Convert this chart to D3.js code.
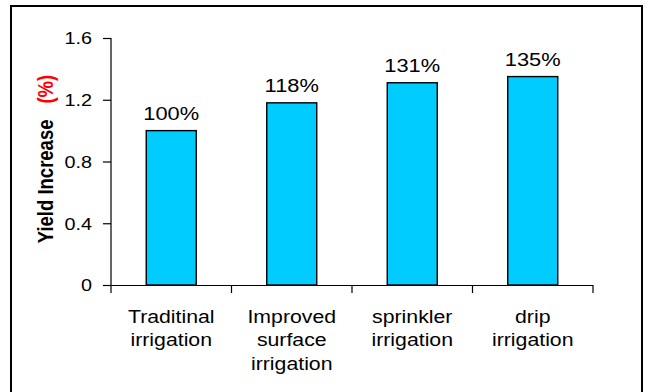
<!DOCTYPE html>
<html><head><meta charset="utf-8">
<script src="https://cdn.jsdelivr.net/npm/d3@7"></script>
<style>body{margin:0;background:#fff}svg{display:block}</style>
</head><body>
<svg id="c" width="649" height="392"></svg>
<script>
const categories = [["Traditinal","irrigation"],["Improved","surface","irrigation"],["sprinkler","irrigation"],["drip","irrigation"]];
const values = [1.00, 1.18, 1.31, 1.35];
const valueLabels = ["100%","118%","131%","135%"];
const yTicks = [0, 0.4, 0.8, 1.2, 1.6];
const yTickLabels = ["0","0.4","0.8","1.2","1.6"];

const svg = d3.select("#c");
const FONT = "Liberation Sans, Arial, sans-serif";
const SX = 1.15;

svg.append("rect").attr("x",11).attr("y",6).attr("width",631).attr("height",400)
  .attr("fill","#fff").attr("stroke","#000").attr("stroke-width",2);

const y = d3.scaleLinear().domain([0,1.6]).range([285,38]);
const x = d3.scaleBand().domain(d3.range(values.length)).range([111,593])
  .paddingInner(0.585).paddingOuter(0.2925);

// bars
svg.selectAll("rect.bar").data(values).join("rect").attr("class","bar")
  .attr("x",(d,i)=>x(i)).attr("width",x.bandwidth())
  .attr("y",d=>y(d)).attr("height",d=>y(0)-y(d))
  .attr("fill","#00CCFF").attr("stroke","#000").attr("stroke-width",1.4);

// y axis
const ya = svg.append("g").attr("transform","translate(111,0)")
  .call(d3.axisLeft(y).tickValues(yTicks).tickSize(8).tickFormat((d,i)=>yTickLabels[i]));
ya.select(".domain").attr("stroke","#000").attr("stroke-width",1.2).attr("d","M-8,38.5H0V285.5");
ya.selectAll(".tick line").attr("stroke","#000").attr("stroke-width",1.2);
ya.selectAll(".tick text").remove();
ya.selectAll(".tick").append("text")
  .attr("transform",`translate(-19,0) scale(${SX+0.05},1)`)
  .attr("text-anchor","end").attr("dy","0.35em")
  .attr("font-family",FONT).attr("font-size",16.5).attr("fill","#000")
  .text((d,i)=>yTickLabels[i]);

// x axis line and ticks at category boundaries
const x0 = x.range()[0], step = x.step();
svg.append("line").attr("x1",x0).attr("x2",x.range()[1]).attr("y1",285.5).attr("y2",285.5)
  .attr("stroke","#000").attr("stroke-width",1.2);
svg.selectAll("line.xt").data(d3.range(values.length+1)).join("line").attr("class","xt")
  .attr("x1",i=>x0+i*step).attr("x2",i=>x0+i*step).attr("y1",285).attr("y2",293)
  .attr("stroke","#000").attr("stroke-width",1.2);

// category labels
categories.forEach((lines,i)=>{
  const cx = x(i)+x.bandwidth()/2;
  const g = svg.append("g").attr("transform",`translate(${cx},322.5) scale(${SX},1)`);
  lines.forEach((t,j)=>{
    g.append("text").attr("y",j*23.7).attr("text-anchor","middle")
      .attr("font-family",FONT).attr("font-size",18.5).attr("fill","#000").text(t);
  });
});

// value labels
svg.selectAll("g.vl").data(values).join("g").attr("class","vl")
  .attr("transform",(d,i)=>`translate(${x(i)+x.bandwidth()/2},${y(d)-10.5}) scale(${SX},1)`)
  .append("text").attr("text-anchor","middle")
  .attr("font-family",FONT).attr("font-size",19).attr("fill","#000")
  .text((d,i)=>valueLabels[i]);

// y title
const yt = svg.append("text")
  .attr("transform",`translate(53,159) scale(${SX},1) rotate(-90)`)
  .attr("text-anchor","middle").attr("font-family",FONT).attr("font-weight","bold")
  .attr("font-size",18.5).attr("fill","#000");
yt.append("tspan").text("Yield Increase");
yt.append("tspan").attr("dx",16).attr("fill","#FF0000").text("(%)");
</script>
</body></html>
